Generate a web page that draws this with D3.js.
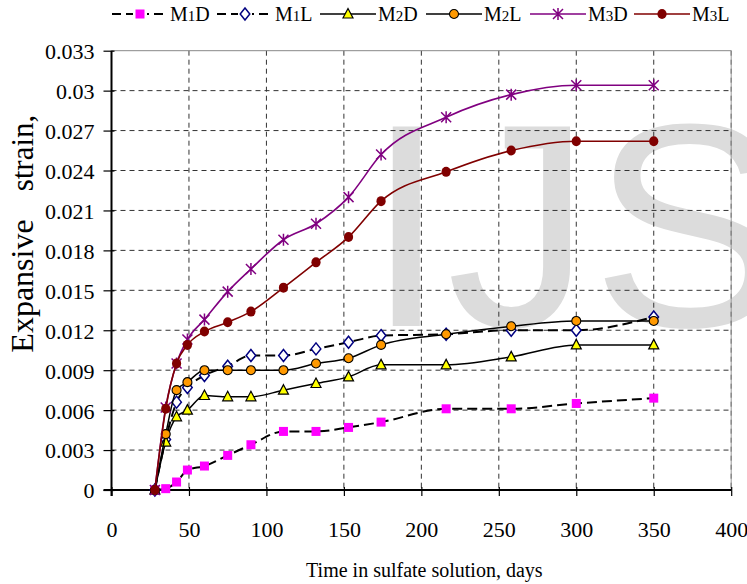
<!DOCTYPE html>
<html>
<head>
<meta charset="utf-8">
<script src="https://cdn.jsdelivr.net/npm/d3@7"></script>
<style>
  html, body { margin: 0; padding: 0; background: #fff; }
  svg { display: block; }
  text { font-family: "Liberation Serif", "Times New Roman", serif; fill: #000; }
</style>
</head>
<body>
<svg id="chart" width="747" height="584"></svg>
<script>
// ---- data ----
const days = [28, 35, 42, 49, 60, 75, 90, 111, 132, 153, 174, 216, 258, 300, 350];
const m1d = [0, 0.0001, 0.0006, 0.0015, 0.0018, 0.0026, 0.0034, 0.0044, 0.0044, 0.0047, 0.0051, 0.0061, 0.0061, 0.0065, 0.0069];
const m1l = [0, 0.0038, 0.0066, 0.0077, 0.0086, 0.0093, 0.0101, 0.0101, 0.0106, 0.0111, 0.0116, 0.0117, 0.0120, 0.0120, 0.0130];
const m2d = [0, 0.0036, 0.0055, 0.0060, 0.0071, 0.0070, 0.0070, 0.0075, 0.0080, 0.0085, 0.0094, 0.0094, 0.0100, 0.0109, 0.0109];
const m2l = [0, 0.0042, 0.0075, 0.0081, 0.0090, 0.0090, 0.0090, 0.0090, 0.0095, 0.0099, 0.0109, 0.0117, 0.0123, 0.0127, 0.0127];
const m3d = [0, 0.0062, 0.0095, 0.0113, 0.0128, 0.0149, 0.0166, 0.0188, 0.0200, 0.0220, 0.0252, 0.0280, 0.0297, 0.0304, 0.0304];
const m3l = [0, 0.0061, 0.0095, 0.0109, 0.0119, 0.0126, 0.0134, 0.0152, 0.0171, 0.0190, 0.0217, 0.0239, 0.0255, 0.0262, 0.0262];

const seriesNames = ["M1D", "M1L", "M2D", "M2L", "M3D", "M3L"];
const xTicks = [0, 50, 100, 150, 200, 250, 300, 350, 400];
const yTicks = [0, 0.003, 0.006, 0.009, 0.012, 0.015, 0.018, 0.021, 0.024, 0.027, 0.03, 0.033];
const yTickLabels = ["0", "0.003", "0.006", "0.009", "0.012", "0.015", "0.018", "0.021", "0.024", "0.027", "0.03", "0.033"];
const xTitle = "Time in sulfate solution, days";
const yTitleA = "Expansive";
const yTitleB = "strain,";
const watermark = "IJS";

// ---- styles ----
const styles = {
  M1D: { color: "#000", dash: "10,5", width: 2, marker: "square", fill: "#FF00FF", stroke: "none" },
  M1L: { color: "#000", dash: "10,5", width: 2, marker: "diamond", fill: "#fff", stroke: "#000080" },
  M2D: { color: "#000", dash: null, width: 1.5, marker: "triangle", fill: "#FFFF00", stroke: "#000" },
  M2L: { color: "#000", dash: null, width: 1.5, marker: "circle", fill: "#FF9900", stroke: "#000" },
  M3D: { color: "#800080", dash: null, width: 1.6, marker: "star", fill: "none", stroke: "#800080" },
  M3L: { color: "#800000", dash: null, width: 1.6, marker: "dot", fill: "#800000", stroke: "#800000" }
};
const seriesValues = { M1D: m1d, M1L: m1l, M2D: m2d, M2L: m2l, M3D: m3d, M3L: m3l };

const svg = d3.select("#chart");
const x = d3.scaleLinear().domain([0, 400]).range([111.5, 731.2]);
const y = d3.scaleLinear().domain([0, 0.033]).range([490, 50.7]);

// watermark (clipped at the right edge as in the reference)
svg.append("text")
  .attr("x", 366).attr("y", 326)
  .style("font-family", "'Liberation Sans', Arial, sans-serif")
  .style("font-size", "290px")
  .style("fill", "#DCDCDC")
  .text(watermark);

// grid
const grid = svg.append("g");
grid.selectAll(".hg").data(yTicks.filter(v => v > 0 && v < 0.033)).enter().append("line")
  .attr("x1", x(0)).attr("x2", x(400))
  .attr("y1", d => y(d)).attr("y2", d => y(d))
  .attr("stroke", "#333").attr("stroke-width", 1).attr("stroke-dasharray", "5,4");
grid.selectAll(".vg").data(xTicks.filter(v => v > 0)).enter().append("line")
  .attr("x1", d => x(d)).attr("x2", d => x(d))
  .attr("y1", y(0.033)).attr("y2", y(0))
  .attr("stroke", "#333").attr("stroke-width", 1).attr("stroke-dasharray", "5,4");
// top/right border
svg.append("line").attr("x1", x(0)).attr("x2", x(400)).attr("y1", y(0.033)).attr("y2", y(0.033))
  .attr("stroke", "#888").attr("stroke-width", 1);
svg.append("line").attr("x1", x(400)).attr("x2", x(400)).attr("y1", y(0.033)).attr("y2", y(0))
  .attr("stroke", "#999").attr("stroke-width", 1);

// axes
const xAxis = svg.append("g").attr("transform", `translate(0,${y(0)})`)
  .call(d3.axisBottom(x).tickValues(xTicks).tickSize(6).tickSizeOuter(0).tickFormat(d3.format("d")));
xAxis.select(".domain").attr("stroke", "#000").attr("stroke-width", 2)
  .attr("d", `M${x(0) - 8},0H${x(400)}`);
xAxis.selectAll(".tick line").attr("stroke", "#000").attr("stroke-width", 1.2).attr("y1", -3);
xAxis.selectAll(".tick text")
  .attr("y", 47).attr("dy", 0)
  .style("font-family", "'Liberation Serif', 'Times New Roman', serif")
  .style("font-size", "22px").style("fill", "#000");

const yAxis = svg.append("g").attr("transform", `translate(${x(0)},0)`)
  .call(d3.axisLeft(y).tickValues(yTicks).tickSize(8).tickSizeOuter(0)
    .tickFormat((d, i) => yTickLabels[i]));
yAxis.select(".domain").attr("stroke", "#000").attr("stroke-width", 2)
  .attr("d", `M0,${y(0.033)}V${y(0) + 6}`);
yAxis.selectAll(".tick line").attr("stroke", "#000").attr("stroke-width", 1.2).attr("x2", 3).attr("x1", -8);
yAxis.selectAll(".tick text")
  .attr("x", -17).attr("dy", "0.36em")
  .style("font-family", "'Liberation Serif', 'Times New Roman', serif")
  .style("font-size", "22px").style("fill", "#000");

// titles
svg.append("text").attr("x", (x(0) + x(400)) / 2 + 3).attr("y", 577)
  .attr("text-anchor", "middle").style("font-size", "20px").text(xTitle);
svg.append("text").attr("transform", "translate(33,286) rotate(-90)")
  .attr("text-anchor", "middle").style("font-size", "32px").text(yTitleA);
svg.append("text").attr("transform", "translate(33,153) rotate(-90)")
  .attr("text-anchor", "middle").style("font-size", "31px").text(yTitleB);

// marker drawing
function drawMarker(g, type, st) {
  if (type === "square") {
    g.append("rect").attr("x", -4.5).attr("y", -4.5).attr("width", 9).attr("height", 9)
      .attr("fill", st.fill);
  } else if (type === "diamond") {
    g.append("path").attr("d", "M0,-6L4.8,0L0,6L-4.8,0Z")
      .attr("fill", st.fill).attr("stroke", st.stroke).attr("stroke-width", 1.5);
  } else if (type === "triangle") {
    g.append("path").attr("d", "M0,-5.5L5,4L-5,4Z")
      .attr("fill", st.fill).attr("stroke", st.stroke).attr("stroke-width", 1.2);
  } else if (type === "circle") {
    g.append("circle").attr("r", 4.5)
      .attr("fill", st.fill).attr("stroke", st.stroke).attr("stroke-width", 1.1);
  } else if (type === "star") {
    g.append("path").attr("d", "M-5,-5L5,5M5,-5L-5,5M0,-6V6")
      .attr("fill", "none").attr("stroke", st.stroke).attr("stroke-width", 1.5);
  } else if (type === "dot") {
    g.append("ellipse").attr("rx", 4.6).attr("ry", 5)
      .attr("fill", st.fill);
  }
}

// series
const line = d3.line().x(d => x(d[0])).y(d => y(d[1])).curve(d3.curveMonotoneX);
seriesNames.forEach(name => {
  const st = styles[name];
  const vals = seriesValues[name];
  const pts = days.map((d, i) => [d, vals[i]]);
  const g = svg.append("g");
  g.append("path").attr("d", line(pts))
    .attr("fill", "none").attr("stroke", st.color).attr("stroke-width", st.width)
    .attr("stroke-dasharray", st.dash);
  g.selectAll(".m").data(pts).enter().append("g")
    .attr("transform", d => `translate(${x(d[0])},${y(d[1])})`)
    .each(function () { drawMarker(d3.select(this), st.marker, st); });
});

// legend
const legendX = [112, 217, 320, 426, 530, 634];
const legY = 14;
seriesNames.forEach((name, i) => {
  const st = styles[name];
  const g = svg.append("g").attr("transform", `translate(${legendX[i]},${legY})`);
  g.append("line").attr("x1", 0).attr("x2", 56).attr("y1", 0).attr("y2", 0)
    .attr("stroke", st.color).attr("stroke-width", st.dash ? 2 : 1.6)
    .attr("stroke-dasharray", st.dash ? "9,5" : null);
  if (st.dash) {
    g.append("rect").attr("x", 21).attr("y", -4).attr("width", 14).attr("height", 8).attr("fill", "#fff");
  }
  const mg = g.append("g").attr("transform", "translate(28,0)");
  drawMarker(mg, st.marker, st);
  const t = g.append("text").attr("x", 58).attr("y", 7).style("font-size", "20px");
  t.append("tspan").text(name.charAt(0));
  t.append("tspan").style("font-size", "15px").text(name.charAt(1));
  t.append("tspan").text(name.charAt(2));
});
</script>
</body>
</html>
